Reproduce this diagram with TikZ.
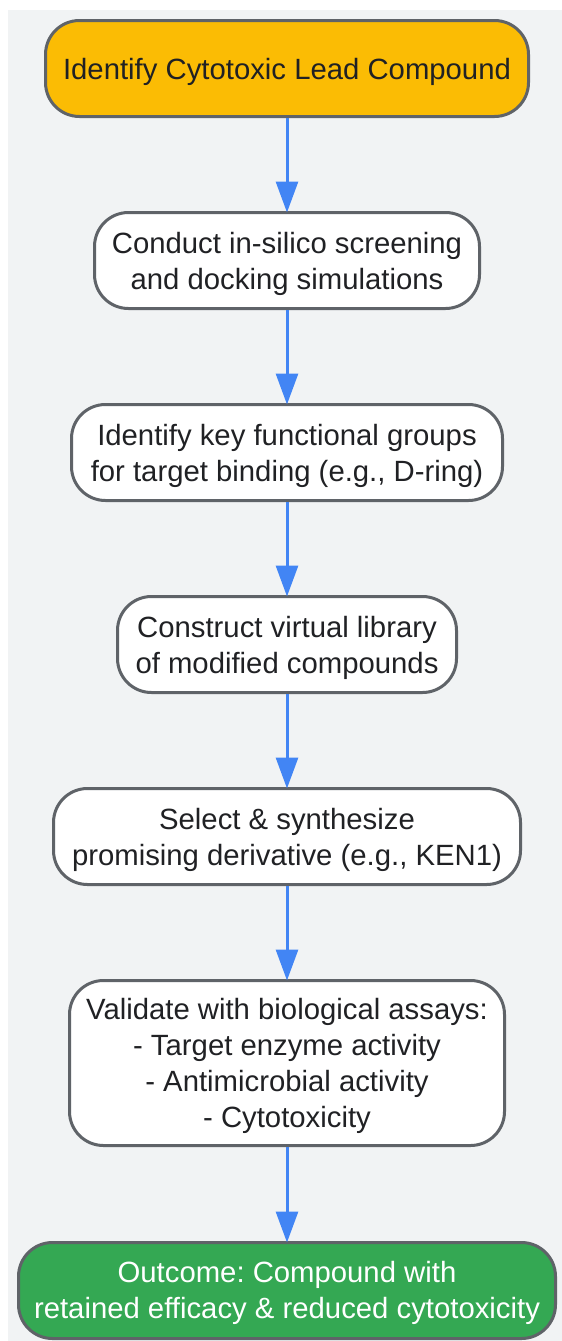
\documentclass[tikz,border=0pt]{standalone}
\usepackage{fontspec}
\setmainfont{Liberation Sans}
\usetikzlibrary{arrows.meta}
\frenchspacing
\definecolor{panelbg}{HTML}{F1F3F4}
\definecolor{edgeblue}{HTML}{4285F4}
\definecolor{strokegrey}{HTML}{5F6368}
\definecolor{inkdark}{HTML}{202124}
\definecolor{startyellow}{HTML}{FBBC04}
\definecolor{endgreen}{HTML}{34A853}
\tikzset{
  x=1pt,y=-1pt,
  flowbox/.style={draw=strokegrey,line width=3pt,rounded corners=34pt,fill=white,
    text=inkdark,align=center,inner sep=0pt,text depth=0pt,
    font=\fontsize{29.3pt}{36pt}\selectfont},
  flowedge/.style={draw=edgeblue,line width=3pt,shorten >=-1.5pt,
    -{Triangle[length=31pt,width=22pt,fill=edgeblue]}},
}
\begin{document}
\begin{tikzpicture}
\useasboundingbox (0,0) rectangle (562,1341);
\fill[panelbg] (8,10) rectangle (562,1341);
\node[flowbox,fill=startyellow,minimum width=483pt,minimum height=96pt] (n1) at (287,68.5) {Identify Cytotoxic Lead Compound};
\node[flowbox,minimum width=385pt,minimum height=96pt] (n2) at (287,260.5) {Conduct in-silico screening\\and docking simulations};
\node[flowbox,minimum width=431pt,minimum height=96pt] (n3) at (287,452.5) {Identify key functional groups\\for target binding (e.g., D-ring)};
\node[flowbox,minimum width=339pt,minimum height=96pt] (n4) at (287,644.5) {Construct virtual library\\of modified compounds};
\node[flowbox,minimum width=467pt,minimum height=96pt] (n5) at (287,836.5) {Select \& synthesize\\promising derivative (e.g., KEN1)};
\node[flowbox,minimum width=435pt,minimum height=165pt] (n6) at (287,1063) {Validate with biological assays:\\- Target enzyme activity\\- Antimicrobial activity\\- Cytotoxicity};
\node[flowbox,fill=endgreen,text=white,text depth=2pt,minimum width=537pt,minimum height=96pt] (n7) at (287,1290.5) {Outcome: Compound with\\retained efficacy \& reduced cytotoxicity};
\draw[flowedge] (n1) -- (n2);
\draw[flowedge] (n2) -- (n3);
\draw[flowedge] (n3) -- (n4);
\draw[flowedge] (n4) -- (n5);
\draw[flowedge] (n5) -- (n6);
\draw[flowedge] (n6) -- (n7);
\end{tikzpicture}
\end{document}
